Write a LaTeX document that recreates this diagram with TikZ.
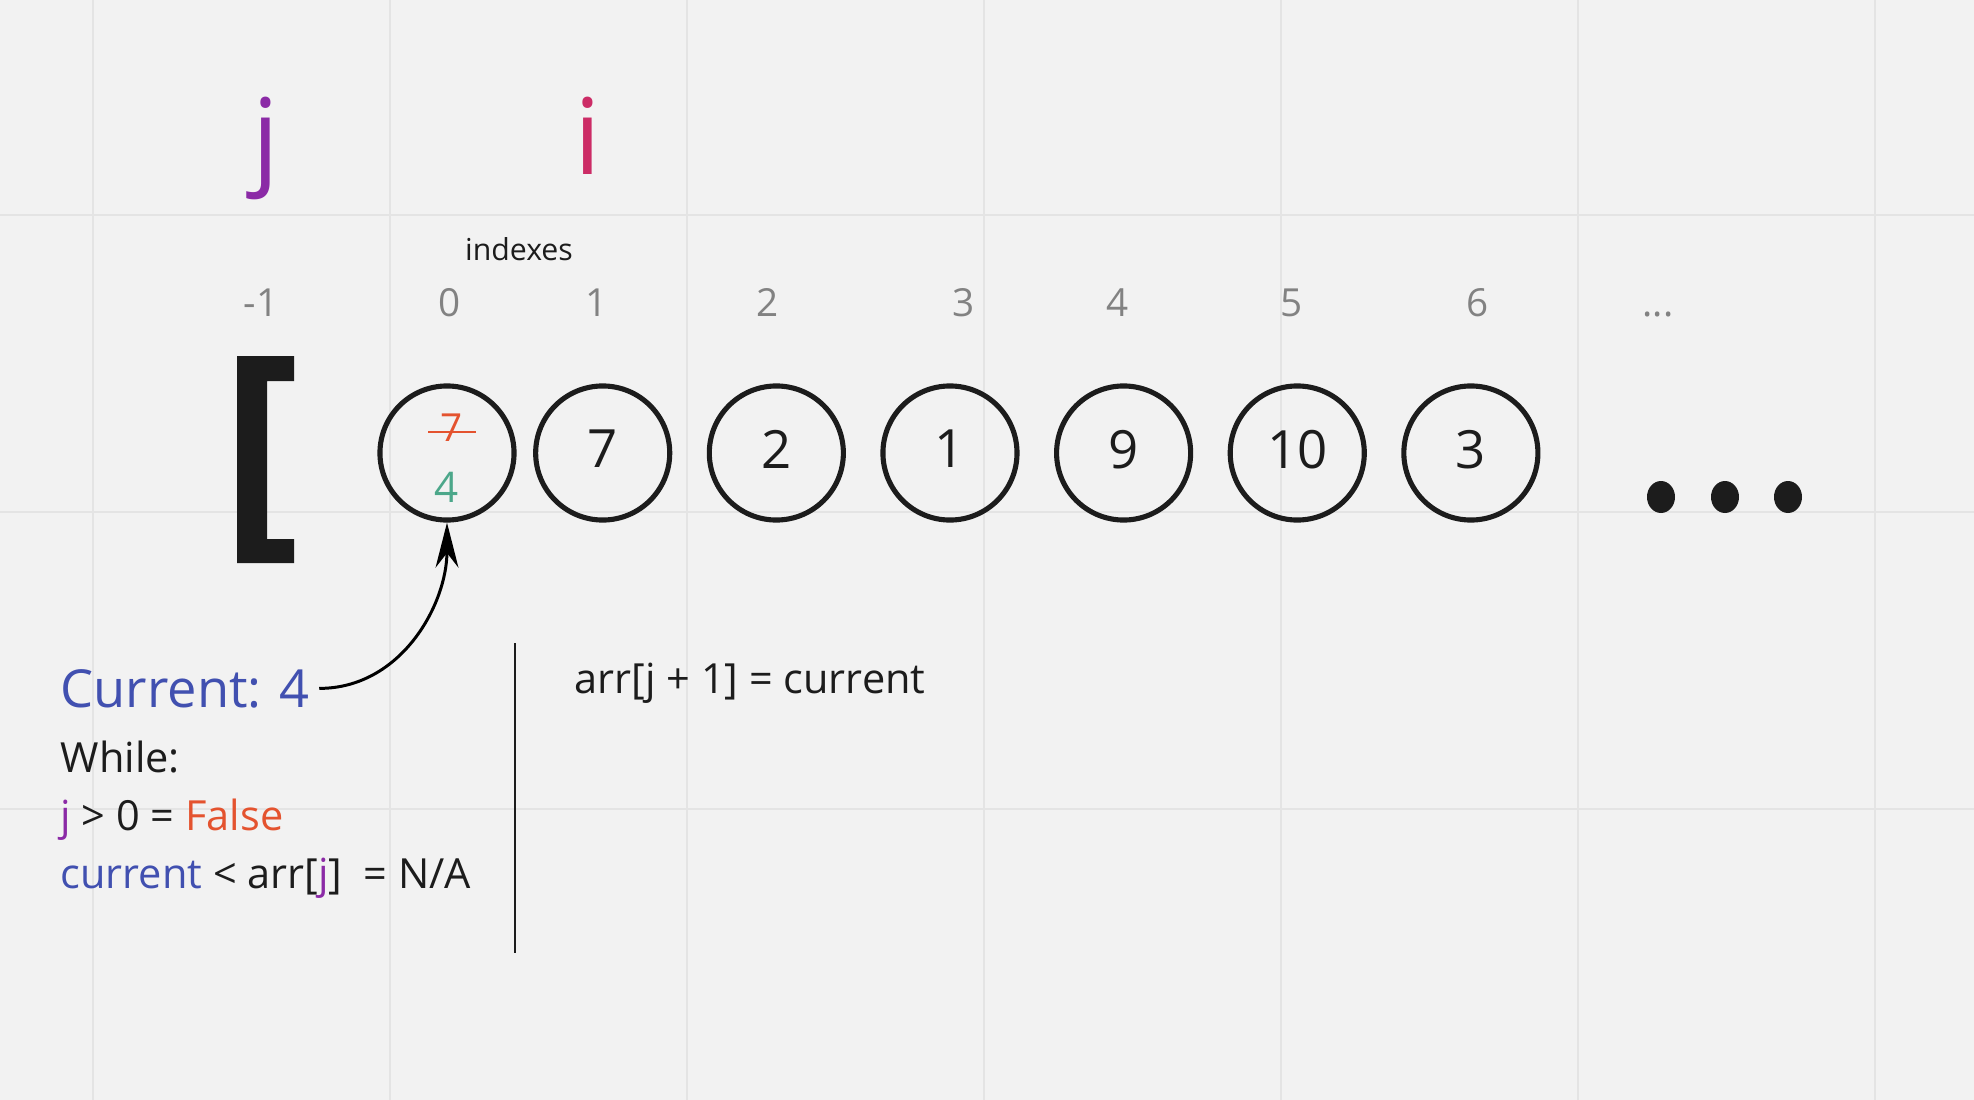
\documentclass[tikz,border=0pt]{standalone}
\usepackage{fontspec}
\setmainfont{Open Sans}
\usepackage{tikz}
\usetikzlibrary{arrows.meta,positioning,calc}

\definecolor{bgcol}{HTML}{F2F2F2}
\definecolor{gridcol}{HTML}{E4E4E4}
\definecolor{inkcol}{HTML}{1C1C1C}
\definecolor{idxcol}{HTML}{828282}
\definecolor{jcol}{HTML}{8B2AA6}
\definecolor{icol}{HTML}{CC2C66}
\definecolor{curcol}{HTML}{4150B0}
\definecolor{falsecol}{HTML}{E4532F}
\definecolor{newcol}{HTML}{4CA78A}

\begin{document}
\begin{tikzpicture}[x=0.01cm, y=-0.01cm, node distance=9.8pt,
	cell/.style={circle, draw=inkcol, line width=1.45pt, minimum size=1.34cm, inner sep=0pt, text depth=2.3pt, text=inkcol, font=\fontsize{15}{18}\selectfont},
	idx/.style={anchor=base, inner sep=0pt, text=idxcol, font=\fontsize{11}{13}\selectfont},
	codeline/.style={anchor=base west, inner sep=0pt, text=inkcol, font=\fontsize{11.8}{14}\selectfont}]
	\fill [bgcol] (0,0) rectangle (1974,1100);
	\useasboundingbox (0,0) rectangle (1974,1100);
	\foreach \gx in {93,390,687,984,1281,1578,1875} \draw [gridcol, line width=0.6pt] (\gx,0) -- (\gx,1100);
	\foreach \gy in {215,512,809} \draw [gridcol, line width=0.6pt] (0,\gy) -- (1974,\gy);

	\node [](j_node) at (266,174) [anchor=base, inner sep=0pt, text=jcol, font=\fontsize{30}{36}\selectfont]{j};
	\node [](i_node) at (588,174) [anchor=base, inner sep=0pt, text=icol, font=\fontsize{30}{36}\selectfont]{i};
	\node [](indexes_node) at (519,260) [anchor=base, inner sep=0pt, text=inkcol, font=\fontsize{8.6}{10}\selectfont]{indexes};

	\node [](idx_m1_node) at (261,316) [idx]{-1};
	\node [](idx_0_node) at (450,316) [idx]{0};
	\node [](idx_1_node) at (597,316) [idx]{1};
	\node [](idx_2_node) at (768,316) [idx]{2};
	\node [](idx_3_node) at (964,316) [idx]{3};
	\node [](idx_4_node) at (1118,316) [idx]{4};
	\node [](idx_5_node) at (1292,316) [idx]{5};
	\node [](idx_6_node) at (1478,316) [idx]{6};
	\node [](idx_more_node) at (1658,317) [idx]{...};

	\fill [inkcol] (237,356) -- (294,356) -- (294,381) -- (267,381) -- (267,539) -- (294,539) -- (294,563) -- (237,563) -- cycle;

	\node [cell](c0_node) at (447,453) {};
	\node [cell](c1_node) [right=4.7pt of c0_node]{7};
	\node [cell](c2_node) [right=of c1_node]{2};
	\node [cell](c3_node) [right=of c2_node]{1};
	\node [cell](c4_node) [right=of c3_node]{9};
	\node [cell](c5_node) [right=of c4_node]{10};
	\node [cell](c6_node) [right=of c5_node]{3};

	\node [](old_node) at (452,441) [anchor=base, inner sep=0pt, text=falsecol, font=\fontsize{11}{13}\selectfont]{7};
	\draw [falsecol, line width=0.6pt] ($(old_node.base west)+(-12,-9)$) -- ($(old_node.base east)+(12,-9)$);
	\node [](new_node) at (447,502) [anchor=base, inner sep=0pt, text=newcol, font=\fontsize{12}{14}\selectfont]{4};

	\fill [inkcol] (1661,497) ellipse [x radius=14, y radius=16];
	\fill [inkcol] (1725,497) ellipse [x radius=14, y radius=16];
	\fill [inkcol] (1788,497) ellipse [x radius=14, y radius=16];

	\node [](cur_node) at (60,707) [anchor=base west, inner sep=0pt, text=curcol, font=\fontsize{14.9}{18}\selectfont]{Current: 4};
	\node [](while_node) at (60,772) [codeline]{While:};
	\node [](cond1_node) at (60,830) [codeline]{\textcolor{jcol}{j} > 0 = \textcolor{falsecol}{False}};
	\node [](cond2_node) at (60,888) [codeline]{\textcolor{curcol}{current} < arr[\textcolor{jcol}{j}]\ \ = N/A};
	\draw [line width=0.85pt, -{Stealth[length=12.8pt, width=6.5pt]}] ([xshift=2.5pt]cur_node.east) to [out=0,in=-90] (c0_node.south);

	\draw [inkcol, line width=0.85pt] (515,643) -- (515,953);
	\node [](assign_node) at (574,693) [codeline]{arr[j + 1] = current};
\end{tikzpicture}
\end{document}
